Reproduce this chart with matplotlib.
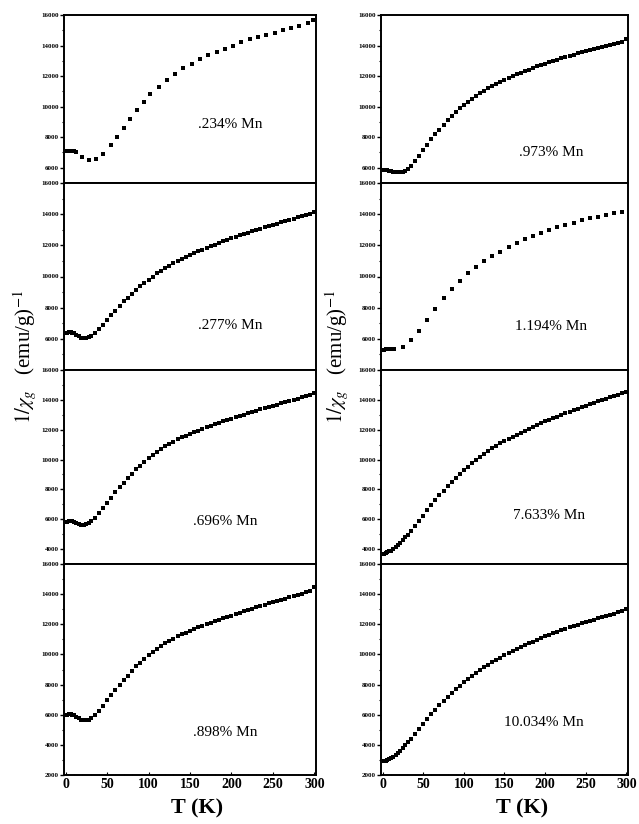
import matplotlib
matplotlib.use("Agg")
import matplotlib.pyplot as plt
from matplotlib.ticker import MultipleLocator, FixedLocator

plt.rcParams['font.family'] = ['Liberation Serif', 'DejaVu Serif']
plt.rcParams['mathtext.fontset'] = 'stix'

# ---------------- data ----------------
T_dense = [2, 4, 6, 8, 10, 13, 16, 19, 22, 25, 28, 31, 35, 40, 45, 50, 55, 60, 65, 70,
           75, 80, 85, 90, 95, 100, 105, 110, 115, 120, 125, 130, 135, 140, 145, 150,
           155, 160, 165, 170, 175, 180, 185, 190, 195, 200, 205, 210, 215, 220, 225,
           230, 235, 240, 245, 250, 255, 260, 265, 270, 275, 280, 285, 290, 295, 300]

mn277 = [6400, 6420, 6420, 6400, 6350, 6250, 6150, 6080, 6040, 6050, 6100, 6200, 6350, 6600,
         6900, 7200, 7500, 7800, 8100, 8400, 8650, 8900, 9150, 9400, 9600, 9800, 10000,
         10200, 10380, 10550, 10700, 10850, 11000, 11130, 11250, 11380, 11500, 11620,
         11730, 11840, 11950, 12050, 12150, 12250, 12350, 12450, 12550, 12640, 12730,
         12820, 12910, 13000, 13080, 13160, 13240, 13320, 13400, 13480, 13560, 13640,
         13720, 13800, 13880, 13960, 14040, 14150]

mn696 = [5800, 5880, 5900, 5880, 5820, 5720, 5650, 5620, 5630, 5680, 5780, 5900, 6100, 6400,
         6750, 7100, 7450, 7800, 8150, 8450, 8750, 9050, 9350, 9600, 9850, 10100, 10300,
         10500, 10700, 10880, 11050, 11200, 11350, 11480, 11600, 11720, 11830, 11940,
         12050, 12150, 12250, 12350, 12450, 12550, 12640, 12730, 12820, 12910, 13000,
         13090, 13180, 13270, 13360, 13440, 13520, 13600, 13680, 13760, 13840, 13920,
         14000, 14080, 14160, 14240, 14320, 14450]

mn898 = [6000, 6020, 6020, 6000, 5950, 5850, 5750, 5660, 5620, 5620, 5680, 5780, 5960, 6250,
         6600, 6950, 7300, 7650, 8000, 8300, 8600, 8900, 9200, 9450, 9700, 9950, 10150,
         10350, 10550, 10730, 10900, 11050, 11200, 11330, 11450, 11570, 11680, 11790,
         11900, 12000, 12100, 12200, 12300, 12400, 12490, 12580, 12670, 12760, 12850,
         12940, 13030, 13120, 13210, 13300, 13390, 13470, 13550, 13630, 13710, 13790,
         13870, 13950, 14030, 14110, 14200, 14500]

mn973 = [5850, 5850, 5830, 5800, 5780, 5740, 5700, 5690, 5700, 5740, 5800, 5900, 6100, 6450,
         6800, 7150, 7500, 7850, 8200, 8500, 8800, 9100, 9380, 9640, 9880, 10100, 10300,
         10500, 10700, 10880, 11050, 11200, 11350, 11500, 11640, 11770, 11890, 12000,
         12110, 12220, 12330, 12430, 12530, 12630, 12720, 12810, 12900, 12990, 13080,
         13160, 13240, 13320, 13400, 13480, 13550, 13620, 13690, 13760, 13830, 13900,
         13970, 14040, 14110, 14180, 14260, 14450]

mn7633 = [3700, 3750, 3800, 3850, 3900, 4000, 4120, 4260, 4420, 4600, 4780, 4960, 5200, 5550,
          5900, 6250, 6600, 6950, 7300, 7620, 7920, 8220, 8500, 8770, 9030, 9280, 9520,
          9750, 9970, 10180, 10380, 10570, 10750, 10920, 11080, 11230, 11380, 11520,
          11660, 11800, 11930, 12060, 12190, 12310, 12430, 12550, 12660, 12770, 12880,
          12990, 13100, 13200, 13300, 13400, 13500, 13600, 13700, 13800, 13890, 13980,
          14070, 14160, 14250, 14340, 14430, 14550]

mn10034 = [2900, 2950, 3000, 3050, 3100, 3200, 3320, 3460, 3620, 3800, 3980, 4160, 4420, 4750,
           5080, 5400, 5720, 6030, 6330, 6620, 6900, 7170, 7430, 7680, 7920, 8150, 8370,
           8580, 8780, 8970, 9150, 9320, 9480, 9640, 9790, 9940, 10080, 10220, 10350,
           10480, 10610, 10730, 10850, 10970, 11080, 11190, 11300, 11400, 11500, 11600,
           11700, 11790, 11880, 11970, 12060, 12150, 12230, 12310, 12390, 12470, 12550,
           12630, 12710, 12790, 12870, 13000]

T_234 = [2, 4, 6, 8, 10, 12, 20, 28, 36, 45, 55, 62, 70, 78, 86, 94, 102, 112, 122, 132,
         142, 152, 162, 172, 182, 192, 202, 212, 222, 232, 242, 252, 262, 272, 282, 292, 298]
mn234 = [7100, 7120, 7120, 7100, 7080, 7050, 6700, 6500, 6550, 6900, 7500, 8000, 8600, 9200,
         9800, 10300, 10800, 11300, 11750, 12150, 12500, 12800, 13100, 13350, 13600, 13800,
         14000, 14200, 14400, 14550, 14700, 14850, 15000, 15150, 15300, 15450, 15700]

T_1194 = [2, 4, 6, 8, 10, 12, 14, 25, 35, 45, 55, 65, 75, 85, 95, 105, 115, 125, 135, 145,
          155, 165, 175, 185, 195, 205, 215, 225, 235, 245, 255, 265, 275, 285, 295]
mn1194 = [5300, 5320, 5330, 5330, 5340, 5350, 5360, 5500, 5900, 6500, 7200, 7900, 8600,
          9200, 9700, 10200, 10600, 11000, 11300, 11600, 11900, 12150, 12400, 12600, 12800,
          13000, 13150, 13300, 13450, 13600, 13750, 13850, 13950, 14050, 14150]

labels_left = ['.234% Mn', '.277% Mn', '.696% Mn', '.898% Mn']
labels_right = ['.973% Mn', '1.194% Mn', '7.633% Mn', '10.034% Mn']
ybottoms = [5000, 4000, 3000, 2000]
ytop = 16000
ytick_sets = [[6000, 8000, 10000, 12000, 14000, 16000],
              [6000, 8000, 10000, 12000, 14000, 16000],
              [4000, 6000, 8000, 10000, 12000, 14000, 16000],
              [2000, 4000, 6000, 8000, 10000, 12000, 14000, 16000]]
x_ticks = [0, 50, 100, 150, 200, 250, 300]

left_series = [(T_234, mn234, 3.2), (T_dense, mn277, 3.4), (T_dense, mn696, 3.4), (T_dense, mn898, 3.4)]
right_series = [(T_dense, mn973, 3.4), (T_1194, mn1194, 3.2), (T_dense, mn7633, 3.4), (T_dense, mn10034, 3.4)]

# label positions in axes fraction
lab_pos_left = [(0.66, 0.35), (0.66, 0.24), (0.64, 0.22), (0.64, 0.20)]
lab_pos_right = [(0.69, 0.18), (0.69, 0.23), (0.68, 0.25), (0.66, 0.25)]

# ---------------- layout ----------------
W, H = 639, 824
fig = plt.figure(figsize=(W / 100, H / 100), dpi=100)

bounds_px = [15, 183, 370, 564, 775]
cols = [(64, 316), (381, 628)]

def make_ax(col, row):
    x0, x1 = cols[col]
    top, bot = bounds_px[row], bounds_px[row + 1]
    return fig.add_axes([x0 / W, 1 - bot / H, (x1 - x0) / W, (bot - top) / H])

for col, (series, labels, lpos) in enumerate([(left_series, labels_left, lab_pos_left),
                                             (right_series, labels_right, lab_pos_right)]):
    for row in range(4):
        ax = make_ax(col, row)
        T, v, ms = series[row]
        ax.plot(T, v, linestyle='none', marker='s', markersize=ms, color='black',
                markeredgewidth=0)
        ax.set_xlim(-2, 302)
        ax.set_ylim(ybottoms[row], ytop)
        ax.yaxis.set_major_locator(FixedLocator(ytick_sets[row]))
        ax.yaxis.set_minor_locator(MultipleLocator(1000))
        ax.tick_params(axis='y', which='major', direction='out', length=3, width=1,
                       labelsize=5, pad=1)
        ax.tick_params(axis='y', which='minor', direction='out', length=1.5, width=0.8)
        for lab in ax.get_yticklabels():
            lab.set_fontweight('bold')
        ax.set_xticks(x_ticks)
        ax.xaxis.set_minor_locator(MultipleLocator(10))
        if row == 3:
            ax.tick_params(axis='x', which='major', direction='in', length=2, width=0.8,
                           labelsize=10, pad=2)
            ax.tick_params(axis='x', which='minor', direction='in', length=1, width=0.6)
            for lab in ax.get_xticklabels():
                lab.set_fontweight('bold')
        else:
            ax.tick_params(axis='x', which='both', length=0, labelbottom=False)
        for s in ax.spines.values():
            s.set_linewidth(1.4)
        ax.text(lpos[row][0], lpos[row][1], labels[row], transform=ax.transAxes,
                fontsize=11, ha='center', va='center')

# axis titles
for xc in (25, 337):
    fig.text(xc / W, 1 - 357 / H, r'$1/\chi_g$   (emu/g)$^{-1}$', rotation=90,
             ha='center', va='center', fontsize=15)
for xc in (197, 522):
    fig.text(xc / W, 1 - 808 / H, 'T (K)', ha='center', va='center', fontsize=16,
             fontweight='bold')

fig.savefig('out.png', dpi=100)
